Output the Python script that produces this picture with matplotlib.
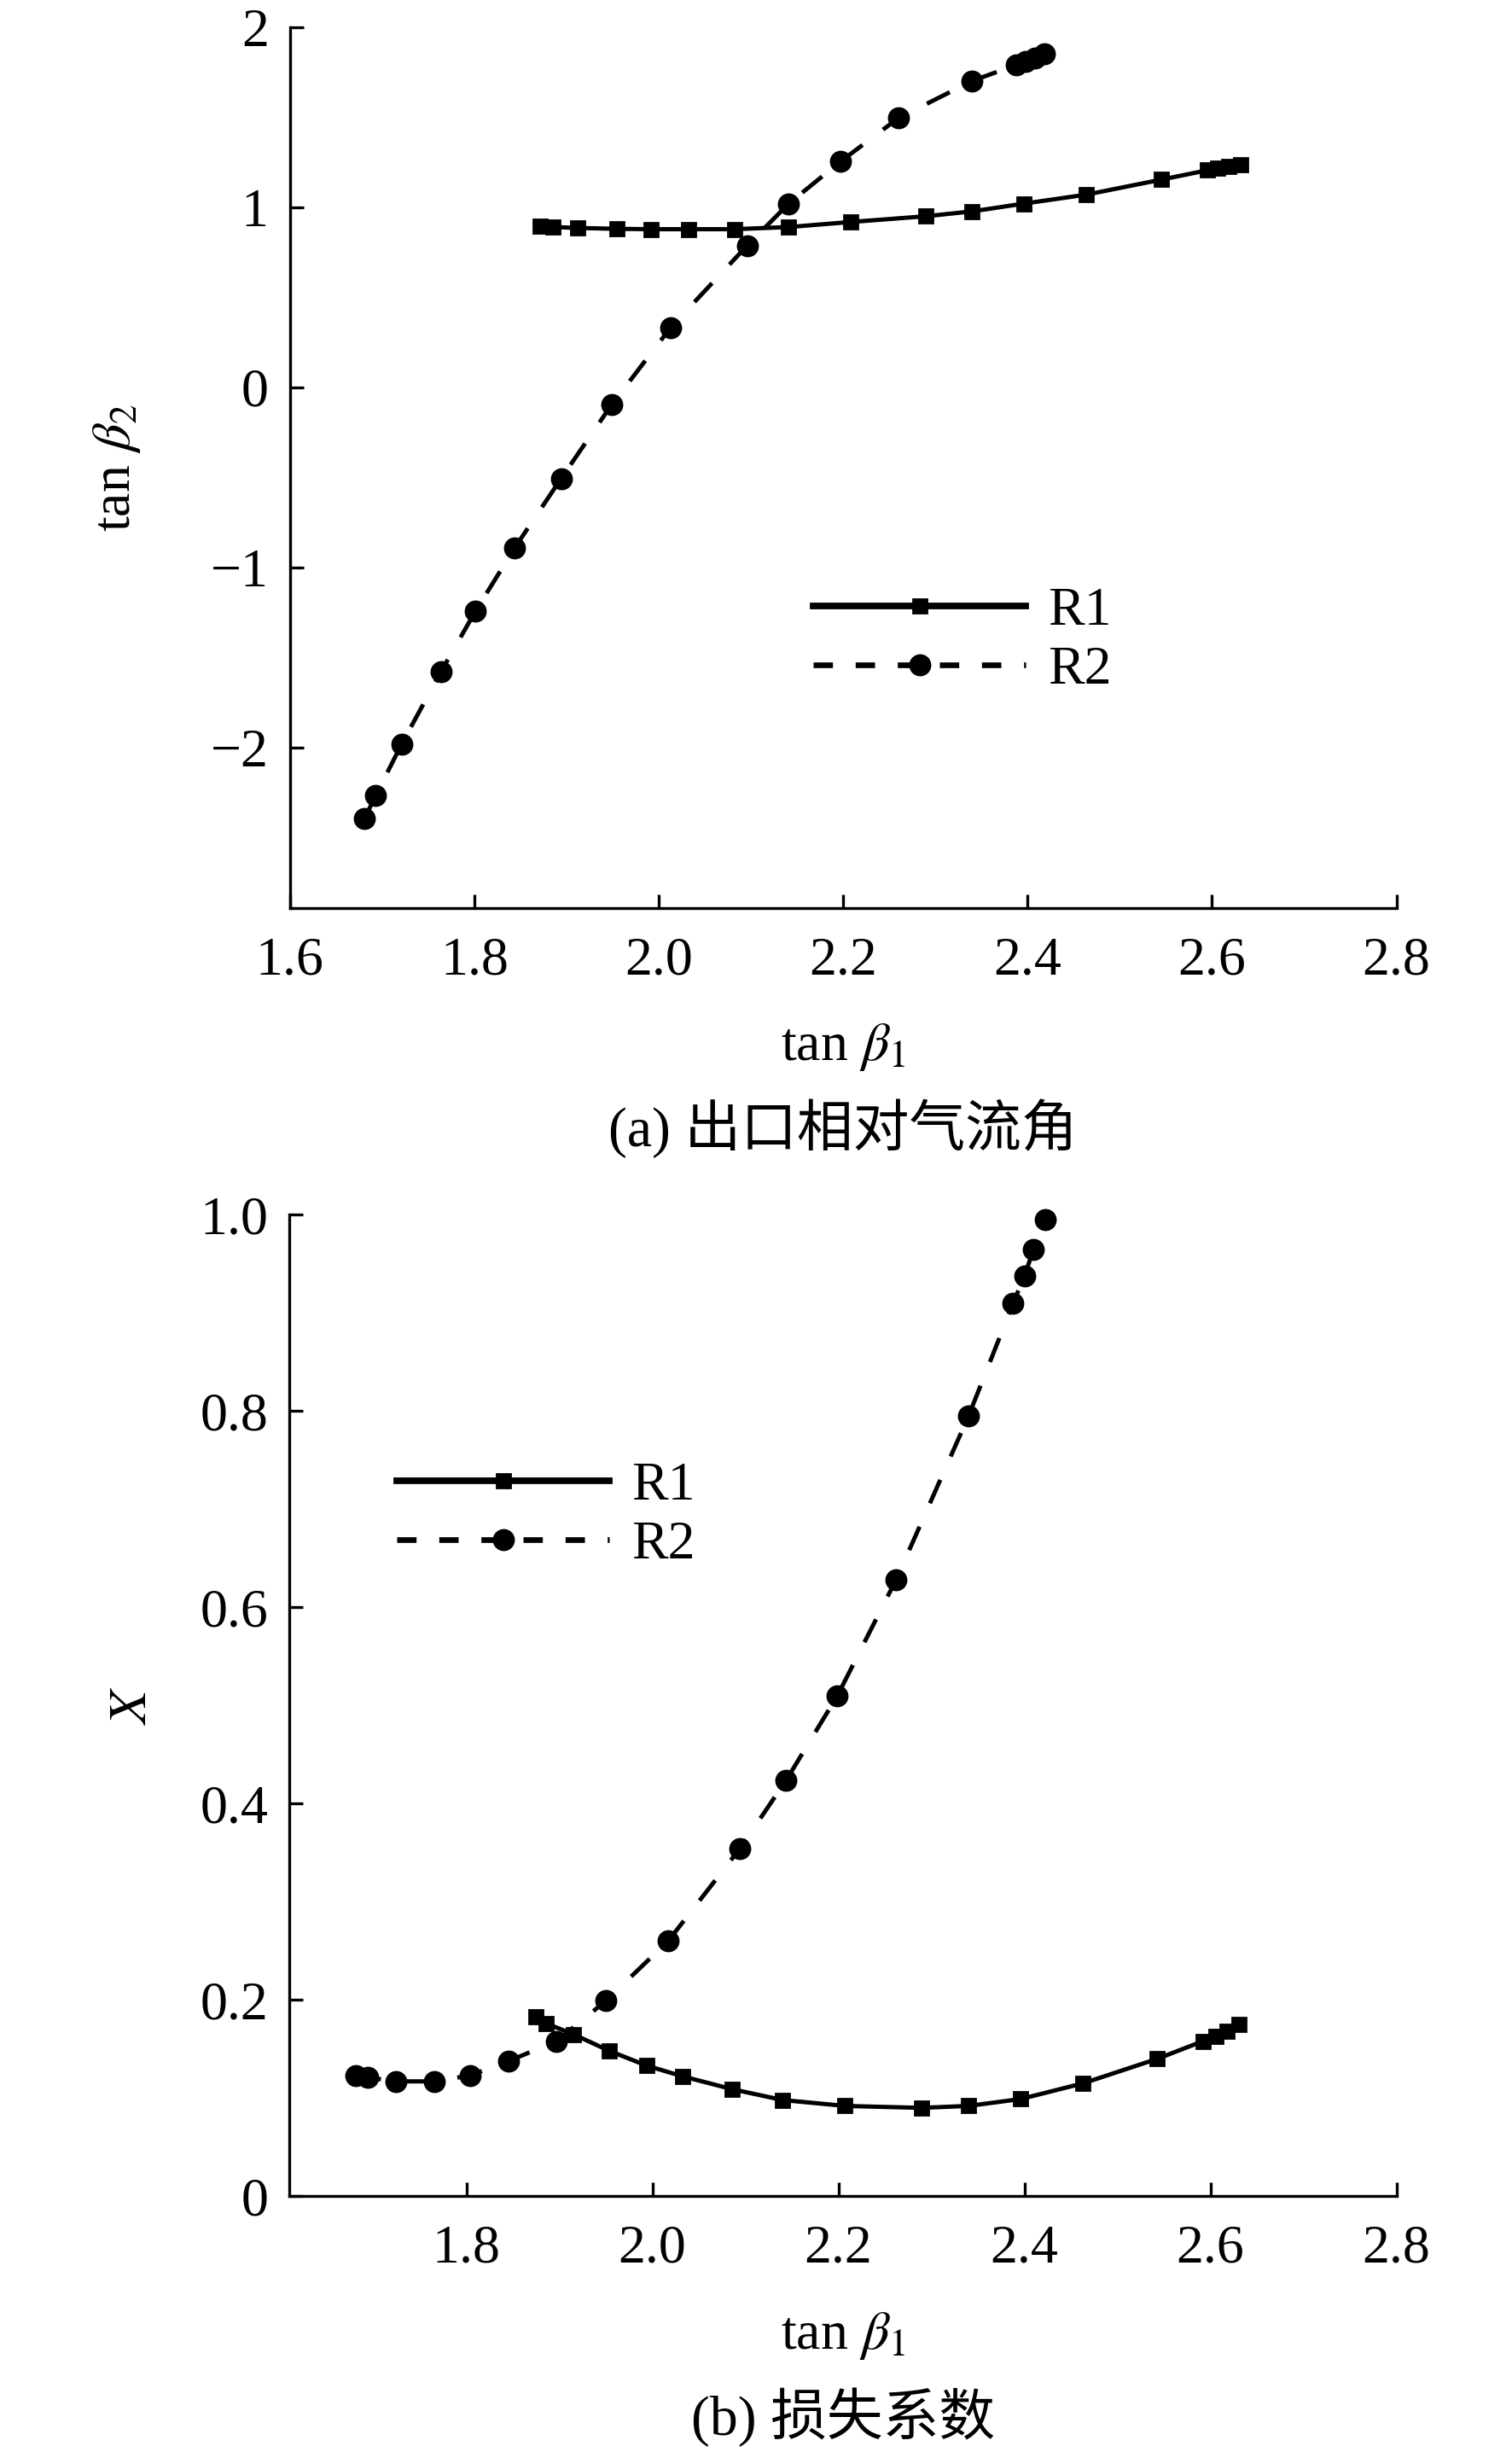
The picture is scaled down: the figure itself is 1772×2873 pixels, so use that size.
import numpy as np
import matplotlib
matplotlib.use("Agg")
import matplotlib.pyplot as plt
from matplotlib.lines import Line2D

plt.rcParams['font.family'] = ['Liberation Serif', 'Noto Sans CJK SC', 'DejaVu Sans']
plt.rcParams['mathtext.fontset'] = 'stix'
plt.rcParams['axes.unicode_minus'] = True

# (a) outlet relative flow angle
a_r1_x = [1.871, 1.885, 1.912, 1.955, 1.992, 2.032, 2.082, 2.141, 2.208, 2.290, 2.340, 2.396,
          2.464, 2.545, 2.595, 2.606, 2.618, 2.631]
a_r1_y = [0.895, 0.890, 0.885, 0.880, 0.878, 0.878, 0.878, 0.890, 0.918, 0.950, 0.977, 1.020,
          1.070, 1.153, 1.205, 1.215, 1.225, 1.235]
a_r2_x = [1.681, 1.693, 1.721, 1.764, 1.801, 1.844, 1.894, 1.949, 2.013, 2.096, 2.141, 2.197,
          2.260, 2.340, 2.388, 2.398, 2.408, 2.418]
a_r2_y = [-2.39, -2.265, -1.98, -1.575, -1.243, -0.888, -0.506, -0.095, 0.333, 0.788, 1.020,
          1.253, 1.495, 1.701, 1.790, 1.810, 1.830, 1.850]

# (b) loss coefficient
b_r1_x = [1.875, 1.886, 1.915, 1.954, 1.994, 2.033, 2.086, 2.140, 2.207, 2.289, 2.340, 2.396,
          2.463, 2.543, 2.592, 2.606, 2.618, 2.631]
b_r1_y = [0.183, 0.176, 0.165, 0.148, 0.133, 0.122, 0.109, 0.098, 0.092, 0.090, 0.092, 0.099,
          0.115, 0.140, 0.158, 0.163, 0.168, 0.175]
b_r2_x = [1.681, 1.694, 1.724, 1.766, 1.804, 1.845, 1.897, 1.950, 2.017, 2.094, 2.144, 2.199,
          2.262, 2.340, 2.388, 2.400, 2.410, 2.422]
b_r2_y = [0.123, 0.121, 0.117, 0.117, 0.123, 0.1375, 0.158, 0.199, 0.260, 0.354, 0.424, 0.510,
          0.628, 0.795, 0.910, 0.9375, 0.965, 0.995]

labels = ['R1', 'R2']
fs = 23

fig = plt.figure(figsize=(8.86, 14.365), dpi=200)
ax1 = fig.add_axes([0.19176, 0.62955, 0.7318, 0.35945])
ax2 = fig.add_axes([0.19153, 0.10432, 0.73205, 0.40028])


def style(ax):
    for s in ['top', 'right']:
        ax.spines[s].set_visible(False)
    for s in ['left', 'bottom']:
        ax.spines[s].set_linewidth(1.2)
    ax.tick_params(direction='in', length=5.8, width=1.2, labelsize=fs)
    ax.tick_params(axis='x', pad=12)
    ax.tick_params(axis='y', pad=9)


def draw(ax, x1, y1, x2, y2):
    ax.plot(x1, y1, color='black', lw=1.8, marker='s', ms=5.5, clip_on=False)
    ax.plot(x2, y2, color='black', lw=1.8, ls=(0, (6, 6)), marker='o', ms=8.3, clip_on=False)


def legend(ax, anchor):
    h = [Line2D([], [], color='black', lw=2.8, marker='s', ms=5.5),
         Line2D([], [], color='black', lw=2.4, ls=(0, (3.4, 4.0)), marker='o', ms=8.3)]
    ax.legend(h, labels, loc='center left', bbox_to_anchor=anchor, frameon=False,
              fontsize=fs, handlelength=3.9, handletextpad=0.4, labelspacing=0.16,
              borderpad=0, borderaxespad=0, numpoints=1)


draw(ax1, a_r1_x, a_r1_y, a_r2_x, a_r2_y)
style(ax1)
ax1.set_xlim(1.6, 2.8)
ax1.set_ylim(-2.89, 2)
ax1.set_xticks([1.6, 1.8, 2.0, 2.2, 2.4, 2.6, 2.8])
ax1.set_xticklabels(['1.6', '1.8', '2.0', '2.2', '2.4', '2.6', '2.8'])
ax1.set_yticks([-2, -1, 0, 1, 2])
ax1.set_yticklabels(['\u22122', '\u22121', '0', '1', '2'])
ax1.set_ylabel(r'tan $\beta_2$', fontsize=fs)
ax1.yaxis.set_label_coords(-0.133, 0.5)
legend(ax1, (0.473, 0.303))

draw(ax2, b_r1_x, b_r1_y, b_r2_x, b_r2_y)
style(ax2)
ax2.set_xlim(1.61, 2.8)
ax2.set_ylim(0, 1.0)
ax2.set_xticks([1.8, 2.0, 2.2, 2.4, 2.6, 2.8])
ax2.set_xticklabels(['1.8', '2.0', '2.2', '2.4', '2.6', '2.8'])
ax2.set_yticks([0, 0.2, 0.4, 0.6, 0.8, 1.0])
ax2.set_yticklabels(['0', '0.2', '0.4', '0.6', '0.8', '1.0'])
ax2.set_ylabel(r'$X$', fontsize=fs)
ax2.yaxis.set_label_coords(-0.119, 0.5)
legend(ax2, (0.097, 0.693))

# x labels and captions (baselines in pixels from top)
H = 2873.0
cx = (339.8 + 1636.6) / 2 / 1772
fig.text(cx, 1 - 1242 / H, r'tan $\beta_1$', ha='center', va='baseline', fontsize=fs)
fig.text(cx, 1 - 1343 / H, '(a) 出口相对气流角', ha='center', va='baseline', fontsize=fs + 0.7)
fig.text(cx, 1 - 2752 / H, r'tan $\beta_1$', ha='center', va='baseline', fontsize=fs)
fig.text(cx, 1 - 2853 / H, '(b) 损失系数', ha='center', va='baseline', fontsize=fs + 0.7)

fig.savefig('out.png', dpi=200)
